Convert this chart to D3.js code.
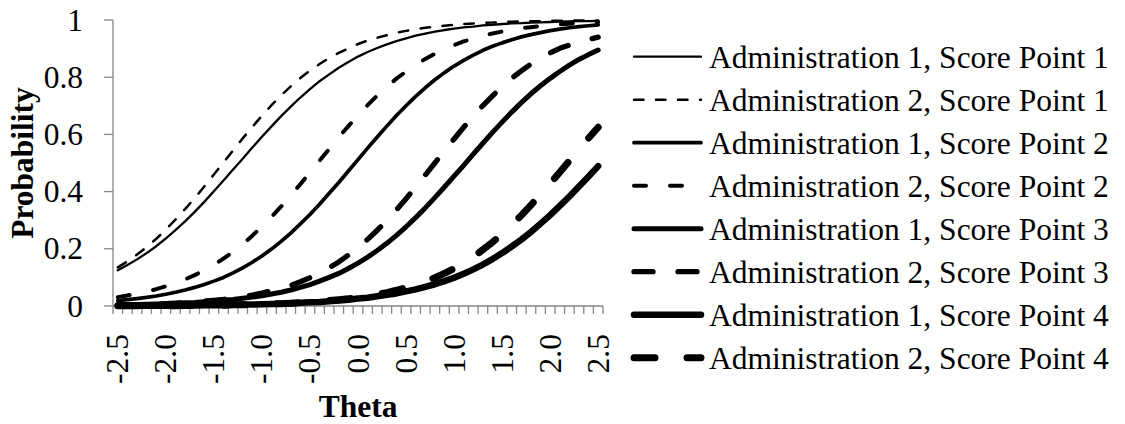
<!DOCTYPE html>
<html>
<head>
<meta charset="utf-8">
<script src="https://cdn.jsdelivr.net/npm/d3@7"></script>
<style>
  html, body { margin: 0; padding: 0; background: #fff; }
  svg { display: block; }
</style>
</head>
<body>
<svg id="chart" width="1125" height="424"></svg>
<script>
// Theta categories (-2.5 to 2.5 in steps of 0.1)
const theta = [
  "-2.5","-2.4","-2.3","-2.2","-2.1","-2.0","-1.9","-1.8","-1.7","-1.6",
  "-1.5","-1.4","-1.3","-1.2","-1.1","-1.0","-0.9","-0.8","-0.7","-0.6",
  "-0.5","-0.4","-0.3","-0.2","-0.1","0.0","0.1","0.2","0.3","0.4",
  "0.5","0.6","0.7","0.8","0.9","1.0","1.1","1.2","1.3","1.4",
  "1.5","1.6","1.7","1.8","1.9","2.0","2.1","2.2","2.3","2.4","2.5"
];
const xTickLabels = ["-2.5","-2.0","-1.5","-1.0","-0.5","0.0","0.5","1.0","1.5","2.0","2.5"];
const yTicks = [0, 0.2, 0.4, 0.6, 0.8, 1];
const yTickLabels = ["0", "0.2", "0.4", "0.6", "0.8", "1"];

const seriesNames = [
  "Administration 1, Score Point 1",
  "Administration 2, Score Point 1",
  "Administration 1, Score Point 2",
  "Administration 2, Score Point 2",
  "Administration 1, Score Point 3",
  "Administration 2, Score Point 3",
  "Administration 1, Score Point 4",
  "Administration 2, Score Point 4"
];

// Cumulative category probabilities by theta
const admin1Sp1 = [
  0.125,0.143,0.163,0.185,0.209,0.236,0.265,0.296,0.329,0.364,
  0.401,0.439,0.477,0.515,0.554,0.592,0.628,0.664,0.697,0.729,
  0.758,0.786,0.810,0.833,0.853,0.872,0.888,0.902,0.915,0.926,
  0.936,0.945,0.952,0.959,0.965,0.970,0.974,0.977,0.981,0.983,
  0.986,0.988,0.989,0.991,0.992,0.993,0.994,0.995,0.996,0.996,0.997
];
const admin2Sp1 = [
  0.135,0.156,0.180,0.206,0.235,0.267,0.302,0.339,0.377,0.418,
  0.460,0.502,0.544,0.586,0.626,0.665,0.702,0.736,0.768,0.797,
  0.823,0.846,0.867,0.885,0.901,0.916,0.928,0.938,0.947,0.955,
  0.962,0.968,0.973,0.977,0.980,0.983,0.986,0.988,0.990,0.991,
  0.993,0.994,0.995,0.996,0.996,0.997,0.997,0.998,0.998,0.998,0.998
];
const admin1Sp2 = [
  0.019,0.022,0.026,0.030,0.035,0.041,0.048,0.056,0.065,0.075,
  0.087,0.100,0.116,0.133,0.153,0.175,0.199,0.226,0.255,0.287,
  0.320,0.356,0.394,0.432,0.472,0.512,0.552,0.591,0.629,0.666,
  0.700,0.733,0.763,0.791,0.816,0.839,0.859,0.877,0.894,0.908,
  0.920,0.931,0.941,0.949,0.956,0.963,0.968,0.973,0.977,0.980,0.983
];
const admin2Sp2 = [
  0.031,0.037,0.043,0.050,0.059,0.069,0.080,0.093,0.108,0.125,
  0.144,0.166,0.190,0.216,0.246,0.278,0.312,0.348,0.387,0.426,
  0.467,0.508,0.549,0.590,0.629,0.667,0.702,0.736,0.766,0.795,
  0.820,0.843,0.864,0.882,0.898,0.912,0.925,0.935,0.945,0.953,
  0.960,0.966,0.971,0.975,0.979,0.982,0.985,0.987,0.989,0.991,0.992
];
const admin1Sp3 = [
  0.004,0.004,0.005,0.006,0.007,0.008,0.009,0.011,0.012,0.015,
  0.017,0.020,0.023,0.027,0.031,0.036,0.042,0.048,0.056,0.065,
  0.075,0.087,0.100,0.114,0.131,0.150,0.171,0.194,0.219,0.247,
  0.277,0.309,0.343,0.379,0.416,0.454,0.492,0.531,0.569,0.607,
  0.643,0.678,0.711,0.742,0.770,0.796,0.820,0.842,0.862,0.879,0.895
];
const admin2Sp3 = [
  0.004,0.004,0.005,0.006,0.007,0.008,0.010,0.012,0.014,0.017,
  0.020,0.023,0.027,0.032,0.038,0.045,0.053,0.062,0.072,0.085,
  0.099,0.115,0.134,0.154,0.178,0.204,0.233,0.265,0.299,0.336,
  0.375,0.416,0.458,0.500,0.542,0.584,0.625,0.664,0.701,0.735,
  0.767,0.796,0.822,0.846,0.866,0.885,0.901,0.912,0.923,0.932,0.940
];
const admin1Sp4 = [
  0.001,0.001,0.001,0.001,0.001,0.001,0.002,0.002,0.002,0.003,
  0.003,0.003,0.004,0.005,0.005,0.006,0.007,0.008,0.009,0.011,
  0.013,0.014,0.017,0.019,0.022,0.026,0.029,0.034,0.039,0.044,
  0.051,0.058,0.067,0.076,0.087,0.099,0.113,0.128,0.145,0.164,
  0.185,0.208,0.232,0.259,0.288,0.318,0.350,0.383,0.418,0.453,0.489
];
const admin2Sp4 = [
  0.001,0.001,0.001,0.001,0.001,0.001,0.001,0.002,0.002,0.002,
  0.003,0.003,0.004,0.004,0.005,0.006,0.007,0.008,0.010,0.012,
  0.014,0.016,0.019,0.022,0.025,0.030,0.035,0.040,0.047,0.055,
  0.064,0.074,0.086,0.099,0.114,0.131,0.151,0.172,0.197,0.223,
  0.252,0.283,0.317,0.353,0.390,0.428,0.468,0.508,0.548,0.587,0.625
];

const seriesValues = [admin1Sp1, admin2Sp1, admin1Sp2, admin2Sp2,
                      admin1Sp3, admin2Sp3, admin1Sp4, admin2Sp4];

// Stroke styles: line weight grows with score point, dashes mark administration 2
const lineStyles = [
  { width: 2.3, dash: null },
  { width: 2.5, dash: "9.5 12.5" },
  { width: 3.7, dash: null },
  { width: 4.0, dash: "12 24" },
  { width: 5.0, dash: null },
  { width: 5.3, dash: "19 25" },
  { width: 6.5, dash: null },
  { width: 7.0, dash: "21 32" }
];

const FONT = "'Liberation Serif', 'Times New Roman', serif";
const FONT_SIZE = 31.5;
const AXIS_COLOR = "#868686";

const svg = d3.select("#chart");

const plot = { left: 113, right: 603, top: 20, bottom: 306 };

const x = d3.scaleBand()
  .domain(theta)
  .range([plot.left, plot.right])
  .paddingInner(0)
  .paddingOuter(0);
const bw = x.bandwidth();
const xc = c => x(c) + bw / 2;

const y = d3.scaleLinear()
  .domain([0, 1])
  .range([plot.bottom, plot.top]);

// Y axis
const yAxis = svg.append("g").attr("class", "y-axis");
yAxis.append("line")
  .attr("x1", plot.left).attr("x2", plot.left)
  .attr("y1", y(1)).attr("y2", y(0))
  .attr("stroke", AXIS_COLOR).attr("stroke-width", 1.3);
yAxis.selectAll("line.tick")
  .data(yTicks)
  .join("line")
  .attr("class", "tick")
  .attr("x1", plot.left - 9).attr("x2", plot.left)
  .attr("y1", d => y(d)).attr("y2", d => y(d))
  .attr("stroke", AXIS_COLOR).attr("stroke-width", 1.3);
yAxis.selectAll("text")
  .data(yTicks)
  .join("text")
  .attr("x", 83)
  .attr("y", d => y(d) + 10.5)
  .attr("text-anchor", "end")
  .attr("font-family", FONT)
  .attr("font-size", FONT_SIZE)
  .attr("fill", "#000")
  .text((d, i) => yTickLabels[i]);

// X axis: tick marks on category boundaries, labels at category centers
const xAxis = svg.append("g").attr("class", "x-axis");
xAxis.append("line")
  .attr("x1", plot.left).attr("x2", plot.right)
  .attr("y1", plot.bottom).attr("y2", plot.bottom)
  .attr("stroke", AXIS_COLOR).attr("stroke-width", 1.3);
const boundaries = theta.map(c => x(c)).concat([x(theta[theta.length - 1]) + bw]);
xAxis.selectAll("line.tick")
  .data(boundaries)
  .join("line")
  .attr("class", "tick")
  .attr("x1", d => d).attr("x2", d => d)
  .attr("y1", plot.bottom).attr("y2", plot.bottom + 8)
  .attr("stroke", AXIS_COLOR).attr("stroke-width", 1.3);
xAxis.selectAll("text")
  .data(xTickLabels)
  .join("text")
  .attr("transform", d => `translate(${xc(d) + 10.5},334) rotate(-90)`)
  .attr("text-anchor", "end")
  .attr("font-family", FONT)
  .attr("font-size", FONT_SIZE)
  .attr("fill", "#000")
  .text(d => d);

// Axis titles
svg.append("text")
  .attr("transform", `translate(33,${(plot.top + plot.bottom) / 2}) rotate(-90)`)
  .attr("text-anchor", "middle")
  .attr("font-family", FONT)
  .attr("font-size", FONT_SIZE)
  .attr("font-weight", "bold")
  .attr("fill", "#000")
  .text("Probability");

svg.append("text")
  .attr("x", (plot.left + plot.right) / 2)
  .attr("y", 417)
  .attr("text-anchor", "middle")
  .attr("font-family", FONT)
  .attr("font-size", FONT_SIZE)
  .attr("font-weight", "bold")
  .attr("fill", "#000")
  .text("Theta");

// Curves
const line = d3.line()
  .x((d, i) => xc(theta[i]))
  .y(d => y(d));

svg.append("g").attr("class", "curves")
  .selectAll("path")
  .data(seriesValues)
  .join("path")
  .attr("d", d => line(d))
  .attr("fill", "none")
  .attr("stroke", "#000")
  .attr("stroke-width", (d, i) => lineStyles[i].width)
  .attr("stroke-dasharray", (d, i) => lineStyles[i].dash)
  .attr("stroke-linecap", "round")
  .attr("stroke-linejoin", "round");

// Legend
const legend = svg.append("g").attr("class", "legend");
const rowY = i => 56.7 + i * 43;
const rows = legend.selectAll("g")
  .data(seriesNames)
  .join("g");
rows.append("line")
  .attr("x1", 634).attr("x2", 701)
  .attr("y1", (d, i) => rowY(i)).attr("y2", (d, i) => rowY(i))
  .attr("stroke", "#000")
  .attr("stroke-width", (d, i) => lineStyles[i].width)
  .attr("stroke-dasharray", (d, i) => lineStyles[i].dash)
  .attr("stroke-linecap", "round");
rows.append("text")
  .attr("x", 709)
  .attr("y", (d, i) => rowY(i) + 11)
  .attr("font-family", FONT)
  .attr("font-size", FONT_SIZE)
  .attr("fill", "#000")
  .text(d => d);
</script>
</body>
</html>
